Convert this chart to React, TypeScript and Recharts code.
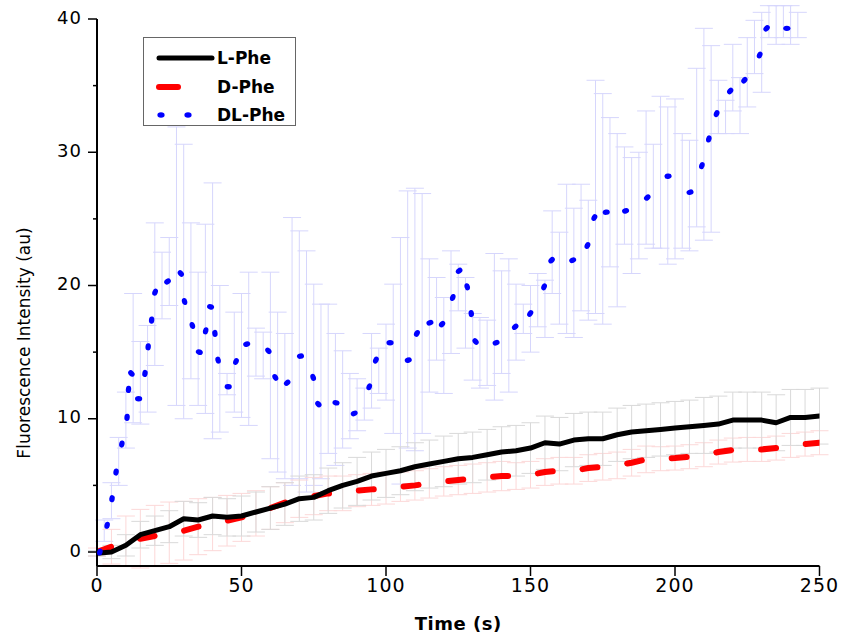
import { LineChart, Line, XAxis, YAxis, ErrorBar, Legend } from 'recharts';

// time axis for the L-Phe / D-Phe traces (s)
const TIME = [
    0, 5, 10, 15, 20, 25, 30, 35, 40, 45, 50, 55, 60, 65, 70, 75, 80, 85, 90, 95,
    100, 105, 110, 115, 120, 125, 130, 135, 140, 145, 150, 155, 160, 165, 170, 175, 180, 185, 190, 195,
    200, 205, 210, 215, 220, 225, 230, 235, 240, 245, 250,
];

const L_PHE = [
    -0.1, 0.0, 0.5, 1.3, 1.6, 1.9, 2.5, 2.4, 2.7, 2.6, 2.7, 3.0, 3.3, 3.6, 4.0, 4.1, 4.6, 5.0, 5.3, 5.7,
    5.9, 6.1, 6.4, 6.6, 6.8, 7.0, 7.1, 7.3, 7.5, 7.6, 7.8, 8.2, 8.1, 8.4, 8.5, 8.5, 8.8, 9.0, 9.1, 9.2,
    9.3, 9.4, 9.5, 9.6, 9.9, 9.9, 9.9, 9.7, 10.1, 10.1, 10.2,
];
const L_ERR = [
    0.2, 0.5, 0.8, 1.0, 1.1, 1.2, 1.3, 1.3, 1.4, 1.4, 1.5, 1.5, 1.6, 1.6, 1.7, 1.7, 1.7, 1.7, 1.8, 1.8,
    1.8, 1.8, 1.8, 1.8, 1.9, 1.9, 1.9, 1.9, 1.9, 1.9, 1.9, 2.0, 2.0, 2.0, 2.0, 2.0, 2.0, 2.0, 2.0, 2.0,
    2.0, 2.0, 2.1, 2.1, 2.1, 2.1, 2.1, 2.1, 2.1, 2.1, 2.1,
];

const D_PHE = [
    0.0, 0.4, 0.8, 1.0, 1.2, 1.45, 1.6, 1.9, 2.1, 2.35, 2.6, 2.9, 3.3, 3.7, 4.0, 4.2, 4.4, 4.4, 4.6, 4.7,
    4.8, 4.9, 5.0, 5.15, 5.3, 5.4, 5.5, 5.6, 5.7, 5.7, 5.8, 6.0, 6.1, 6.1, 6.3, 6.4, 6.5, 6.7, 6.95, 7.0,
    7.05, 7.15, 7.3, 7.5, 7.65, 7.7, 7.7, 7.8, 8.0, 8.1, 8.2,
];
const D_ERR = [
    0.3, 1.3, 1.9, 2.2, 2.3, 2.3, 2.2, 2.1, 2.0, 1.9, 1.8, 1.7, 1.6, 1.5, 1.4, 1.4, 1.3, 1.3, 1.2, 1.2,
    1.2, 1.1, 1.1, 1.1, 1.1, 1.1, 1.1, 1.1, 1.1, 1.0, 1.0, 1.0, 1.0, 1.0, 1.0, 1.0, 1.0, 1.0, 1.0, 0.9,
    0.9, 0.9, 0.9, 0.9, 0.9, 0.9, 0.9, 0.9, 0.9, 0.9, 0.9,
];

// DL-Phe, read at the dots of the dotted trace
const DL_T = [
    1.0, 3.5, 5.2, 6.6, 8.6, 10.4, 10.9, 11.9, 14.4, 16.6, 17.7, 18.9, 20.1, 24.4, 29.0, 30.3, 33.0, 35.4, 37.6, 39.3,
    40.8, 41.9, 45.4, 48.1, 51.8, 59.3, 61.7, 65.8, 70.4, 74.8, 76.6, 82.7, 89.0, 94.2, 96.5, 101.4, 107.7, 110.7, 115.2, 119.4,
    123.1, 125.3, 128.1, 129.5, 131.0, 138.1, 144.7, 149.9, 154.7, 157.3, 164.6, 169.7, 172.1, 176.2, 182.9, 190.4, 197.6, 205.2, 209.3, 211.7,
    214.4, 219.1, 224.0, 229.3, 231.7, 238.7,
];
const DL_V = [
    0.0, 2.0, 4.0, 6.0, 8.1, 10.1, 12.2, 13.4, 11.5, 13.4, 15.4, 17.4, 19.5, 20.3, 20.9, 18.8, 17.0, 15.0, 16.6, 18.4,
    16.4, 14.4, 12.4, 14.3, 15.6, 15.1, 13.1, 12.7, 14.7, 13.1, 11.1, 11.2, 10.4, 12.4, 14.4, 15.7, 14.4, 16.4, 17.2, 17.1,
    19.1, 21.1, 19.9, 17.9, 15.8, 15.7, 16.9, 17.9, 19.9, 21.9, 21.9, 23.0, 25.1, 25.5, 25.6, 26.6, 28.2, 27.0, 29.0, 31.0,
    32.9, 34.6, 35.4, 37.3, 39.3, 39.3,
];

// DL-Phe error bars: bottom and top of each whisker
const DL_BAR_T = [
    2.5, 5, 7.5, 10, 12.5, 15, 17.5, 20, 22.5, 25, 27.5, 30, 32.5, 35, 37.5, 40, 42.5, 45, 47.5, 50,
    52.5, 55, 57.5, 60, 62.5, 65, 67.5, 70, 72.5, 75, 77.5, 80, 82.5, 85, 87.5, 90, 92.5, 95, 97.5, 100,
    102.5, 105, 107.5, 110, 112.5, 115, 117.5, 120, 122.5, 125, 127.5, 130, 132.5, 135, 137.5, 140, 142.5, 145, 147.5, 150,
    152.5, 155, 157.5, 160, 162.5, 165, 167.5, 170, 172.5, 175, 177.5, 180, 182.5, 185, 187.5, 190, 192.5, 195, 197.5, 200,
    202.5, 205, 207.5, 210, 212.5, 215, 217.5, 220, 222.5, 225, 227.5, 230, 232.5, 235, 237.5, 240, 242.5,
];
const DL_BAR_LO = [
    0.8, 2.5, 5.0, 7.8, 9.7, 9.6, 10.5, 14.0, 17.5, 18.5, 11.0, 10.0, 13.0, 11.0, 10.4, 8.5, 9.0, 11.8, 10.5, 10.1,
    9.5, 13.2, 13.0, 7.0, 6.0, 5.5, 5.0, 5.5, 4.5, 5.0, 5.5, 7.4, 6.5, 7.8, 8.5, 9.1, 9.9, 10.8, 11.9, 11.4,
    8.9, 5.1, 7.8, 7.6, 8.9, 12.0, 14.4, 11.9, 14.9, 18.1, 15.3, 12.9, 12.3, 12.5, 11.4, 13.4, 12.0, 14.4, 16.4, 15.0,
    16.9, 16.1, 19.4, 17.1, 16.4, 16.1, 18.1, 17.4, 17.9, 17.1, 21.4, 18.4, 23.1, 20.9, 22.0, 23.1, 22.8, 22.8, 21.6, 22.0,
    22.8, 22.6, 24.4, 23.4, 24.0, 31.4, 31.4, 33.1, 31.4, 33.4, 35.9, 34.5, 38.6, 38.1, 38.6, 38.1, 38.6,
];
const DL_BAR_HI = [
    2.4, 5.2, 8.6, 12.0, 19.4, 15.8, 17.0, 24.7, 22.5, 23.6, 31.9, 30.6, 24.7, 21.0, 24.6, 27.7, 20.0, 13.4, 18.0, 19.4,
    21.0, 16.8, 16.5, 21.0, 18.0, 16.4, 25.1, 24.1, 22.6, 20.1, 18.6, 18.6, 16.4, 15.1, 13.4, 13.0, 12.3, 16.4, 15.3, 17.1,
    20.1, 23.6, 27.1, 27.3, 26.9, 22.0, 20.6, 19.1, 22.6, 21.6, 20.6, 17.9, 17.6, 17.4, 22.4, 21.1, 22.0, 20.1, 18.6, 20.0,
    20.9, 20.4, 25.6, 24.0, 27.6, 25.8, 27.6, 26.4, 35.4, 34.4, 32.6, 31.4, 30.4, 29.6, 30.0, 33.1, 30.6, 34.2, 33.4, 34.0,
    31.4, 30.9, 36.3, 39.3, 38.0, 35.4, 33.9, 38.1, 35.6, 38.6, 39.9, 40.5, 41.0, 41.0, 41.0, 41.0, 40.5,
];

const X_TICKS = [0, 50, 100, 150, 200, 250];
const Y_TICKS = [0, 5, 10, 15, 20, 25, 30, 35, 40];

const FONT = '"DejaVu Sans", Verdana, sans-serif';

const lData = TIME.map((t, i) => ({ t, v: L_PHE[i], e: L_ERR[i] }));
const dData = TIME.map((t, i) => ({ t, v: D_PHE[i], e: D_ERR[i] }));
const dlData = DL_T.map((t, i) => ({ t, v: DL_V[i] }));
const dlBars = DL_BAR_T.map((t, i) => ({
    t,
    v: (DL_BAR_LO[i] + DL_BAR_HI[i]) / 2,
    e: (DL_BAR_HI[i] - DL_BAR_LO[i]) / 2,
}));

const DlDot = (props: any) => {
    const { cx, cy, index, points } = props;
    if (cx == null || cy == null) return null;
    let angle = 90;
    if (points && points.length > 1) {
        const a = points[Math.max(0, index - 1)];
        const b = points[Math.min(points.length - 1, index + 1)];
        angle = (Math.atan2(b.y - a.y, b.x - a.x) * 180) / Math.PI;
    }
    return (
        <ellipse
            cx={cx}
            cy={cy}
            rx={3.6}
            ry={2.7}
            fill="#0000ff"
            transform={`rotate(${angle} ${cx} ${cy})`}
        />
    );
};

const YTick = ({ x, y, payload }: any) => {
    const major = payload.value % 10 === 0;
    return (
        <g>
            <line x1={x} x2={x - (major ? 9 : 4)} y1={y} y2={y} stroke="#000" strokeWidth={1.5} />
            {major && (
                <text
                    x={x - 15}
                    y={y - 2}
                    textAnchor="end"
                    dominantBaseline="central"
                    fontSize={18}
                    letterSpacing={1}
                    fontFamily={FONT}
                    fill="#000"
                >
                    {payload.value}
                </text>
            )}
        </g>
    );
};

const XTick = ({ x, y, payload }: any) => (
    <text x={x} y={y} dy={14} textAnchor="middle" fontSize={19} letterSpacing={1} fontFamily={FONT} fill="#000">
        {payload.value}
    </text>
);

const LegendBox = () => (
    <div
        style={{
            width: 151,
            height: 87,
            border: '1px solid #666',
            background: '#fff',
            fontFamily: FONT,
            fontSize: 17,
            fontWeight: 'bold',
            color: '#000',
            position: 'relative',
        }}
    >
        {[
            { name: 'L-Phe', top: 20, sample: <line x1={3} x2={56} y1={6} y2={6} stroke="#000" strokeWidth={5} strokeLinecap="round" /> },
            { name: 'D-Phe', top: 49, sample: <line x1={3} x2={22} y1={6} y2={6} stroke="#ff0000" strokeWidth={6} strokeLinecap="round" /> },
            {
                name: 'DL-Phe',
                top: 77,
                sample: (
                    <g fill="#0000ff">
                        <ellipse cx={5} cy={6} rx={3.6} ry={2.7} />
                        <ellipse cx={32} cy={6} rx={3.6} ry={2.7} />
                    </g>
                ),
            },
        ].map((row) => (
            <div key={row.name} style={{ position: 'absolute', left: 0, top: row.top - 6, height: 12, width: 151 }}>
                <svg width={60} height={12} style={{ position: 'absolute', left: 12, top: 0 }}>
                    {row.sample}
                </svg>
                <span style={{ position: 'absolute', left: 73, top: 6, transform: 'translateY(-50%)', lineHeight: 1, whiteSpace: 'nowrap' }}>
                    {row.name}
                </span>
            </div>
        ))}
    </div>
);

export default function App() {
    return (
        <div style={{ position: 'absolute', left: 0, top: 0, width: 842, height: 640, background: '#fff' }}>
            <LineChart width={842} height={640} margin={{ top: 19, right: 22.5, bottom: 0, left: 0 }}>
                <XAxis
                    type="number"
                    dataKey="t"
                    domain={[0, 250]}
                    ticks={X_TICKS}
                    allowDataOverflow
                    height={74}
                    stroke="#000"
                    axisLine={{ stroke: '#000', strokeWidth: 2 }}
                    tickLine={{ stroke: '#000', strokeWidth: 1.5 }}
                    tickSize={10}
                    tickMargin={2}
                    tick={<XTick />}
                    label={{ value: 'Time (s)', position: 'insideBottom', offset: 10, fontSize: 18, fontWeight: 'bold', fontFamily: FONT, fill: '#000', letterSpacing: 0.5 }}
                />
                <YAxis
                    type="number"
                    domain={[-1.05, 40]}
                    ticks={Y_TICKS}
                    allowDataOverflow
                    width={97}
                    axisLine={{ stroke: '#000', strokeWidth: 2 }}
                    tickLine={false}
                    tickSize={0}
                    tickMargin={0}
                    tick={<YTick />}
                    label={{
                        content: () => (
                            <text
                                x={24}
                                y={343}
                                transform="rotate(-90 24 343)"
                                textAnchor="middle"
                                dominantBaseline="central"
                                fontSize={17}
                                fontFamily={FONT}
                                fill="#000"
                            >
                                Fluorescence Intensity (au)
                            </text>
                        ),
                    }}
                />
                <Line data={dlBars} dataKey="v" stroke="none" dot={false} activeDot={false} isAnimationActive={false} legendType="none">
                    <ErrorBar dataKey="e" width={9} stroke="#d6d6fc" strokeWidth={1} direction="y" />
                </Line>
                <Line data={dData} dataKey="v" stroke="none" dot={false} activeDot={false} isAnimationActive={false} legendType="none">
                    <ErrorBar dataKey="e" width={9} stroke="#fcd8d8" strokeWidth={1} direction="y" />
                </Line>
                <Line data={lData} dataKey="v" stroke="none" dot={false} activeDot={false} isAnimationActive={false} legendType="none">
                    <ErrorBar dataKey="e" width={9} stroke="#d9d9d9" strokeWidth={1} direction="y" />
                </Line>
                <Line
                    data={dData}
                    dataKey="v"
                    name="D-Phe"
                    stroke="#ff0000"
                    strokeWidth={6}
                    strokeDasharray="15 30"
                    strokeLinecap="round"
                    dot={false}
                    activeDot={false}
                    isAnimationActive={false}
                />
                <Line
                    data={lData}
                    dataKey="v"
                    name="L-Phe"
                    stroke="#000"
                    strokeWidth={5}
                    strokeLinejoin="round"
                    strokeLinecap="round"
                    dot={false}
                    activeDot={false}
                    isAnimationActive={false}
                />
                <Line
                    data={dlData}
                    dataKey="v"
                    name="DL-Phe"
                    stroke="none"
                    dot={(p: any) => <DlDot key={`dl-${p.index}`} {...p} />}
                    activeDot={false}
                    isAnimationActive={false}
                />
                <Legend
                    layout="vertical"
                    align="center"
                    verticalAlign="middle"
                    wrapperStyle={{ position: 'absolute', left: 143, top: 37, width: 153, height: 89 }}
                    content={() => <LegendBox />}
                />
            </LineChart>
        </div>
    );
}
